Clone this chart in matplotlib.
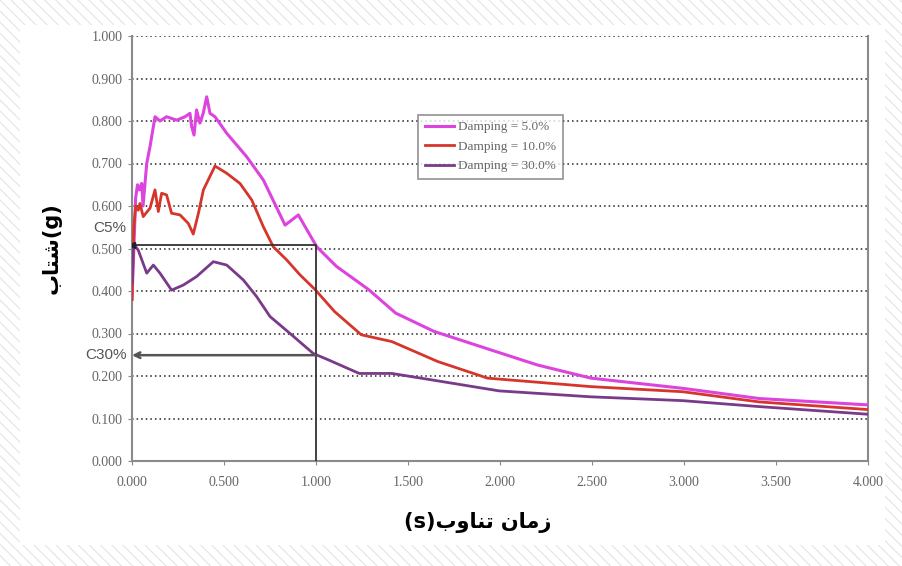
import matplotlib
matplotlib.use('Agg')
import matplotlib.pyplot as plt
from matplotlib.patches import Rectangle

# damping 5%
t5 = [0.0, 0.01, 0.02, 0.03, 0.04, 0.053, 0.06, 0.08, 0.098, 0.125, 0.152, 0.188,
      0.243, 0.288, 0.315, 0.324, 0.337, 0.351, 0.369, 0.387, 0.406, 0.424, 0.451,
      0.515, 0.623, 0.714, 0.832, 0.904, 1.004, 1.111, 1.287, 1.433, 1.641, 1.953,
      2.203, 2.494, 2.993, 3.409, 4.0]
sa5 = [0.38, 0.50, 0.62, 0.65, 0.638, 0.653, 0.60, 0.70, 0.74, 0.81, 0.80, 0.81,
       0.802, 0.81, 0.818, 0.787, 0.767, 0.826, 0.795, 0.818, 0.857, 0.818, 0.81,
       0.771, 0.716, 0.661, 0.555, 0.579, 0.504, 0.458, 0.403, 0.348, 0.305, 0.261,
       0.226, 0.195, 0.171, 0.147, 0.132]

# damping 10%
t10 = [0.0, 0.01, 0.02, 0.034, 0.043, 0.061, 0.098, 0.125, 0.143, 0.161, 0.188,
       0.215, 0.261, 0.306, 0.333, 0.361, 0.388, 0.451, 0.515, 0.587, 0.651, 0.714,
       0.768, 0.841, 0.913, 0.996, 1.10, 1.246, 1.412, 1.662, 1.932, 2.494, 2.993,
       3.409, 4.0]
sa10 = [0.38, 0.55, 0.60, 0.59, 0.606, 0.575, 0.595, 0.638, 0.587, 0.63, 0.626,
        0.583, 0.579, 0.559, 0.534, 0.583, 0.638, 0.694, 0.677, 0.653, 0.614, 0.551,
        0.504, 0.473, 0.438, 0.403, 0.352, 0.297, 0.281, 0.234, 0.195, 0.175, 0.163,
        0.139, 0.121]

# damping 30%
t30 = [0.0, 0.007, 0.034, 0.08, 0.116, 0.152, 0.215, 0.279, 0.351, 0.442, 0.515,
       0.605, 0.677, 0.75, 0.859, 0.985, 1.067, 1.235, 1.412, 1.641, 1.995, 2.494,
       2.993, 3.409, 4.0]
sa30 = [0.42, 0.512, 0.496, 0.442, 0.461, 0.442, 0.402, 0.414, 0.434, 0.469, 0.461,
        0.426, 0.387, 0.34, 0.30, 0.253, 0.238, 0.206, 0.206, 0.19, 0.165, 0.151,
        0.142, 0.128, 0.11]

c5_val = 0.508
c30_val = 0.249
t_read = 1.0

xticks = [0, 0.5, 1.0, 1.5, 2.0, 2.5, 3.0, 3.5, 4.0]
yticks = [0.0, 0.1, 0.2, 0.3, 0.4, 0.5, 0.6, 0.7, 0.8, 0.9, 1.0]

# Persian labels written in visual order with presentation forms
xlabel = '(s)' + '\uFE8F\uFEED\uFE8E\uFEE8\uFE97' + ' ' + '\uFEE5\uFE8E\uFEE3\uFEAF'
ylabel = '\uFE8F\uFE8E\uFE98\uFEB7' + '(g)'

plt.rcParams['hatch.linewidth'] = 0.8
fig = plt.figure(figsize=(9.03, 5.66), dpi=100)
fig.patches.append(Rectangle((0, 0), 1, 1, transform=fig.transFigure, facecolor='white',
                             edgecolor='#e4e4e4', hatch='\\\\\\', linewidth=0, zorder=-2))
fig.patches.append(Rectangle((20 / 903, 21 / 566), 865 / 903, 520 / 566, transform=fig.transFigure,
                             facecolor='white', edgecolor='none', zorder=-1))

ax = fig.add_axes([132 / 903, 105 / 566, 736 / 903, 425 / 566])
ax.set_facecolor('white')

ax.plot(t5, sa5, color='#dd44dd', lw=2.2, label='Damping = 5.0%', zorder=3)
ax.plot(t10, sa10, color='#d6352c', lw=2, label='Damping = 10.0%', zorder=3)
ax.plot(t30, sa30, color='#7a3a8a', lw=2, label='Damping = 30.0%', zorder=3)

# reading lines
ax.plot([0, t_read, t_read], [c5_val, c5_val, 0], color='#333333', lw=1.3, zorder=4)
ax.annotate('', xy=(0, c30_val), xytext=(t_read, c30_val),
            arrowprops=dict(arrowstyle='->', color='#555555', lw=1.8,
                            shrinkA=0, shrinkB=0, mutation_scale=10), zorder=4)
ax.plot([0], [c5_val], marker='<', color='#222222', ms=4, zorder=5)
ax.text(-0.03, c5_val + 0.04, 'C5%', ha='right', va='center', fontsize=11,
        color='#555555', family='Liberation Sans')
ax.text(-0.03, c30_val, 'C30%', ha='right', va='center', fontsize=11,
        color='#555555', family='Liberation Sans')

ax.set_xlim(0, 4.0)
ax.set_ylim(0, 1.0)
ax.set_xticks(xticks)
ax.set_yticks(yticks)
ax.set_xticklabels(['%.3f' % v for v in xticks], family='Liberation Serif', fontsize=10, color='#666666')
ax.set_yticklabels(['%.3f' % v for v in yticks], family='Liberation Serif', fontsize=10, color='#666666')
ax.tick_params(axis='x', length=3, color='#888888', pad=8)
ax.tick_params(axis='y', length=3, color='#888888', pad=4)
ax.grid(axis='y', linestyle=(0, (1, 2)), color='#222222', lw=1.1)
ax.set_axisbelow(True)
for s in ['left', 'bottom', 'right']:
    ax.spines[s].set_color('#8a8a8a')
    ax.spines[s].set_linewidth(1.5)
ax.spines['top'].set_visible(False)

ax.set_xlabel(xlabel, fontsize=15, fontweight='bold', family='DejaVu Sans')
ax.xaxis.set_label_coords(0.47, -0.12)
ax.set_ylabel(ylabel, fontsize=15, fontweight='bold', family='DejaVu Sans')
ax.yaxis.set_label_coords(-0.095, 0.5)

leg = ax.legend(loc='upper left', bbox_to_anchor=(0.389, 0.815), prop={'family': 'Liberation Serif', 'size': 9.5},
                frameon=True, fancybox=False, edgecolor='#777777', handlelength=2.2,
                handletextpad=0.3, borderpad=0.5, labelspacing=0.55, borderaxespad=0)
leg.get_frame().set_linewidth(1.2)
for txt in leg.get_texts():
    txt.set_color('#666666')

fig.savefig('out.png', dpi=100)
